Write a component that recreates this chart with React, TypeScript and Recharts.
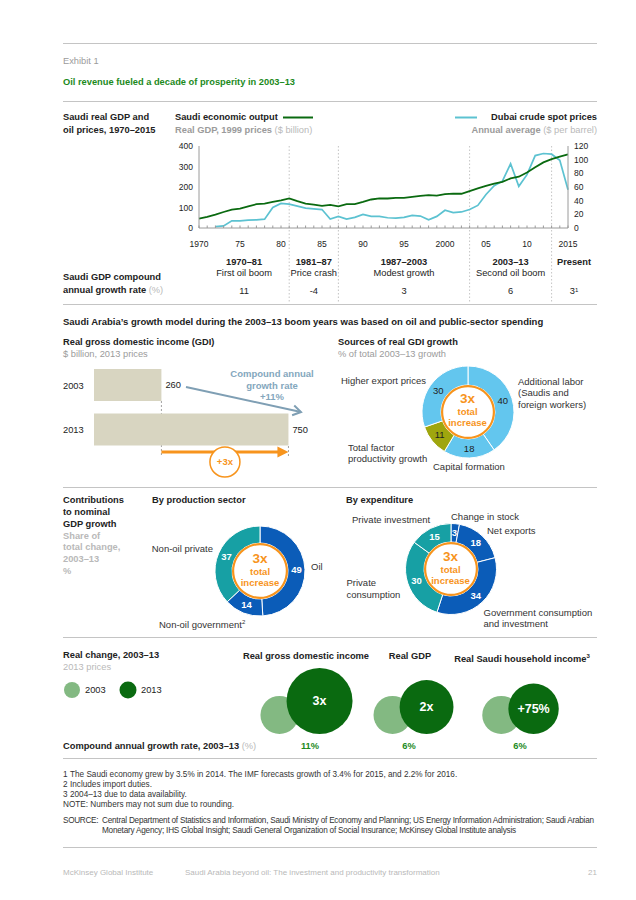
import React from 'react';
import {
  ComposedChart, Line, XAxis, YAxis, ReferenceLine, ReferenceArea,
  BarChart, Bar, LabelList, PieChart, Pie, Cell, ScatterChart, Scatter, ZAxis,
} from 'recharts';

const FONT = '"Liberation Sans", Arial, Helvetica, sans-serif';
const RAD = Math.PI / 180;
const ORANGE = '#f7941d';
const BLUE = '#0b5cb8';
const TEAL = '#17a0a4';
const SKY = '#63c6ee';
const OLIVE = '#9fa60e';
const DKGREEN = '#0a6a10';
const LTGREEN = '#83b982';
const TITLEGREEN = '#1c8a1c';
const CYAN = '#5cc2d1';
const TEXT = '#222';
const GRAY = '#9b9b9b';
const LGRAY = '#b9b9b9';
const RULE = '#c4c4c4';

// ---------- Data: Saudi GDP and oil prices ----------
const years = [1970, 1971, 1972, 1973, 1974, 1975, 1976, 1977, 1978, 1979, 1980, 1981, 1982, 1983, 1984, 1985, 1986, 1987, 1988, 1989, 1990, 1991, 1992, 1993, 1994, 1995, 1996, 1997, 1998, 1999, 2000, 2001, 2002, 2003, 2004, 2005, 2006, 2007, 2008, 2009, 2010, 2011, 2012, 2013, 2014, 2015];
const gdpValues = [46, 54, 65, 78, 90, 95, 106, 116, 119, 127, 135, 144, 131, 119, 114, 108, 113, 106, 116, 116, 127, 139, 144, 144, 147, 147, 152, 157, 160, 158, 165, 168, 167, 180, 193, 206, 217, 225, 242, 250, 271, 296, 320, 336, 348, 359];
const oilValues = [null, null, 2, 3, 10.5, 10.5, 11.5, 12, 13, 30, 36, 35, 32, 29, 28, 27, 13, 17, 13, 15.5, 20, 17, 17, 15, 14.5, 15.5, 18.5, 17.5, 12, 17, 26, 22.5, 23.5, 27, 33, 49, 62, 68.5, 94, 61, 78, 106, 109, 108, 99, 56];
const gdpTicks = [0, 100, 200, 300, 400];
const oilTicks = [0, 20, 40, 60, 80, 100, 120];
const xLabelYears = [1970, 1975, 1980, 1985, 1990, 1995, 2000, 2005, 2010, 2015];
const xLabelTexts = ['1970', '75', '80', '85', '90', '95', '2000', '05', '10', '2015'];
const dividerYears = [1981, 1987, 2003, 2013];

const periodRanges = ['1970–81', '1981–87', '1987–2003', '2003–13', 'Present'];
const periodNames = ['First oil boom', 'Price crash', 'Modest growth', 'Second oil boom', ''];
const periodRates = ['11', '-4', '3', '6', '3'];
const periodStarts = [1970, 1981, 1987, 2003, 2013];

// ---------- Data: GDI ----------
const gdiYears = ['2003', '2013'];
const gdiValues = [260, 750];

// ---------- Data: donuts ----------
const sourceNames = ['Additional labor', 'Capital formation', 'Total factor productivity growth', 'Higher export prices'];
const sourceValues = [40, 18, 11, 30];
const sourceColors = [SKY, SKY, OLIVE, SKY];

const sectorNames = ['Oil', 'Non-oil government', 'Non-oil private'];
const sectorValues = [49, 14, 37];
const sectorColors = [BLUE, BLUE, TEAL];

const expNames = ['Change in stock', 'Net exports', 'Government consumption and investment', 'Private consumption', 'Private investment'];
const expValues = [3, 18, 34, 30, 15];
const expColors = [BLUE, BLUE, BLUE, TEAL, TEAL];

// ---------- Data: bubbles ----------
const bubbleNames = ['Real gross domestic income', 'Real GDP', 'Real Saudi household income'];
const bubble2003 = [100, 100, 100];
const bubble2013 = [300, 200, 175];
const bubbleLabels = ['3x', '2x', '+75%'];
const bubbleCagr = ['11%', '6%', '6%'];

// ---------- helpers ----------
const PLOT_L = 199;
const PLOT_R = 568;
const xOfYear = (y: number) => PLOT_L + ((y - 1970) * (PLOT_R - PLOT_L)) / 45;

type TP = {
  x: number; y: number; children: React.ReactNode; size?: number; color?: string;
  bold?: boolean; align?: 'left' | 'center' | 'right'; ls?: number;
};
function T({ x, y, children, size = 9.3, color = TEXT, bold = false, align = 'left', ls = 0 }: TP) {
  const lh = Math.round(size * 1.2);
  const style: React.CSSProperties = {
    position: 'absolute', top: y - lh / 2, fontSize: size, lineHeight: `${lh}px`, color,
    fontWeight: bold ? 700 : 400, whiteSpace: 'nowrap', letterSpacing: ls,
  };
  if (align === 'left') style.left = x;
  else if (align === 'right') style.right = 636 - x;
  else { style.left = x; style.transform = 'translateX(-50%)'; }
  return <div style={style}>{children}</div>;
}

function Rule({ y }: { y: number }) {
  return <div style={{ position: 'absolute', left: 63, width: 534, top: y, height: 1, background: RULE }} />;
}

const chartData = years.map((yr, i) => ({ year: yr, gdp: gdpValues[i], oil: oilValues[i] }));
const xLabelOf = (v: number) => {
  const i = xLabelYears.indexOf(v);
  return i >= 0 ? xLabelTexts[i] : '';
};

function GrowthArrow(p: any) {
  const { x, y, width, height } = p;
  const bottom = y + height;
  const x2 = x + width;
  const mid = (x + x2) / 2;
  return (
    <g>
      <line x1={x} x2={x} y1={bottom - 51} y2={bottom + 5} stroke="#8a8a8a" strokeWidth={0.8} strokeDasharray="2 2" />
      <line x1={x2} x2={x2} y1={bottom - 6} y2={bottom + 5} stroke="#8a8a8a" strokeWidth={0.8} strokeDasharray="2 2" />
      <line x1={x} x2={x2 - 9} y1={bottom} y2={bottom} stroke={ORANGE} strokeWidth={3} />
      <polygon points={`${x2},${bottom} ${x2 - 11},${bottom - 5.5} ${x2 - 11},${bottom + 5.5}`} fill={ORANGE} />
      <circle cx={mid} cy={bottom + 10} r={15} fill="#fff" stroke={ORANGE} strokeWidth={1.5} />
      <text x={mid} y={bottom + 10} dy="0.35em" textAnchor="middle" fontSize={9.5} fontWeight={700} fill={ORANGE}>+3x</text>
    </g>
  );
}

type DonutProps = {
  cx: number; cy: number; names: string[]; values: number[]; colors: string[];
  rIn: number; rOut: number; labelColor: string; labelBold: boolean;
};
function Donut({ cx, cy, names, values, colors, rIn, rOut, labelColor, labelBold }: DonutProps) {
  const size = 110;
  const c = size / 2;
  const data = names.map((n, i) => ({ name: n, value: values[i] }));
  const renderLabel = (p: any) => {
    const r = (p.innerRadius + p.outerRadius) / 2;
    const x = p.cx + r * Math.cos(-p.midAngle * RAD);
    const y = p.cy + r * Math.sin(-p.midAngle * RAD);
    return (
      <text key={`l-${p.index}`} x={x} y={y} dy="0.35em" textAnchor="middle" fontSize={9.5}
        fontWeight={labelBold ? 700 : 400} fill={labelColor}>{p.value}</text>
    );
  };
  return (
    <div style={{ position: 'absolute', left: cx - c, top: cy - c, width: size, height: size }}>
      <PieChart width={size} height={size} margin={{ top: 0, right: 0, bottom: 0, left: 0 }}>
        <Pie data={data} dataKey="value" cx={c} cy={c} innerRadius={rIn} outerRadius={rOut}
          startAngle={90} endAngle={-270} stroke="#fff" strokeWidth={1}
          isAnimationActive={false} labelLine={false} label={renderLabel}>
          {data.map((d, i) => <Cell key={d.name} fill={colors[i]} />)}
        </Pie>
        <Pie data={[{ name: 'ring', value: 1 }]} dataKey="value" cx={c} cy={c} innerRadius={rIn - 2.2}
          outerRadius={rIn} startAngle={90} endAngle={-270} fill={ORANGE} stroke="none" isAnimationActive={false} />
      </PieChart>
      <T x={c} y={c - 12.5} size={13.5} bold color={ORANGE} align="center">3x</T>
      <T x={c} y={c} size={9.5} bold color={ORANGE} align="center">total</T>
      <T x={c} y={c + 11.3} size={9.5} bold color={ORANGE} align="center">increase</T>
    </div>
  );
}

function BubblePair(p: any) {
  const { cx, cy, payload } = p;
  const rD = p.width ? p.width / 2 : Math.sqrt((p.size || 0) / Math.PI);
  const rL = rD * Math.sqrt(payload.v2003 / payload.z);
  const overlap = 12;
  const W = 2 * rL + 2 * rD - overlap;
  const left = cx - W / 2;
  const lx = left + rL;
  const dx = left + 2 * rL - overlap + rD;
  return (
    <g>
      <circle cx={lx} cy={cy - rL} r={rL} fill={LTGREEN} />
      <circle cx={dx} cy={cy - rD} r={rD} fill={DKGREEN} />
      <text x={dx} y={cy - rD} dy="0.35em" textAnchor="middle" fontSize={12.5} fontWeight={700} fill="#fff">{payload.label}</text>
    </g>
  );
}

const bubbleData = bubbleNames.map((n, i) => ({ name: n, y: 0, z: bubble2013[i], v2003: bubble2003[i], label: bubbleLabels[i] }));
const gdiData = gdiYears.map((y, i) => ({ year: y, value: gdiValues[i] }));

const FN = 8.2;

export default function App() {
  const colCenters = periodStarts.map((s, i) => (i < 4 ? (xOfYear(s) + xOfYear(periodStarts[i + 1] ?? 2015)) / 2 : 574));
  const ax = { x1: 186, y1: 387, x2: 301, y2: 412 };
  const len = Math.hypot(ax.x2 - ax.x1, ax.y2 - ax.y1);
  const ux = (ax.x2 - ax.x1) / len, uy = (ax.y2 - ax.y1) / len;
  const hp = (s: number) => `${ax.x2 - 8 * ux + s * 5 * -uy},${ax.y2 - 8 * uy + s * 5 * ux}`;
  return (
    <div style={{ position: 'absolute', left: 0, top: 0, width: 636, height: 900, background: '#fff', fontFamily: FONT, color: TEXT, overflow: 'hidden' }}>
      <Rule y={43} />
      <T x={63} y={61} color={GRAY}>Exhibit 1</T>
      <T x={63} y={82} bold color={TITLEGREEN}>Oil revenue fueled a decade of prosperity in 2003–13</T>
      <Rule y={101} />

      {/* Section 1 header */}
      <T x={63} y={117.5} bold>Saudi real GDP and</T>
      <T x={63} y={130} bold>oil prices, 1970–2015</T>
      <T x={175} y={117.5} bold>Saudi economic output</T>
      <T x={175} y={130} bold color={GRAY}>Real GDP, 1999 prices <span style={{ fontWeight: 400, color: LGRAY }}>($ billion)</span></T>
      <T x={597} y={117.5} bold align="right">Dubai crude spot prices</T>
      <T x={597} y={130} bold color={GRAY} align="right">Annual average <span style={{ fontWeight: 400, color: LGRAY }}>($ per barrel)</span></T>

      <div style={{ position: 'absolute', left: 150, top: 140 }}>
        <ComposedChart width={460} height={166} data={chartData} margin={{ top: 6, right: 2, bottom: 0, left: 9 }}>
          <XAxis dataKey="year" type="number" domain={[1970, 2015]} ticks={years} interval={0}
            tickFormatter={xLabelOf} height={78} tickSize={-2.5} tickMargin={15.5}
            axisLine={{ stroke: '#9a9a9a' }} tickLine={{ stroke: '#9a9a9a' }}
            tick={{ fontSize: 8.5, fill: TEXT }} />
          <YAxis yAxisId="gdp" domain={[0, 400]} ticks={gdpTicks} interval={0} width={40} tickLine={false} tickSize={0}
            tickMargin={6} axisLine={{ stroke: '#9a9a9a' }} tick={{ fontSize: 8.5, fill: TEXT }} />
          <YAxis yAxisId="oil" orientation="right" domain={[0, 120]} ticks={oilTicks} interval={0} width={40} tickLine={false}
            tickSize={0} tickMargin={6} axisLine={{ stroke: '#9a9a9a' }} tick={{ fontSize: 8.5, fill: TEXT }} />
          {dividerYears.map((yr) => (
            <ReferenceLine key={yr} yAxisId="gdp" ifOverflow="visible"
              segment={[{ x: yr, y: 400 }, { x: yr, y: -366 }]}
              stroke="#b5b5b5" strokeWidth={0.8} strokeDasharray="1.5 2" />
          ))}
          <Line yAxisId="oil" dataKey="oil" type="linear" stroke={CYAN} strokeWidth={1.7} dot={false}
            isAnimationActive={false} connectNulls={false} />
          <Line yAxisId="gdp" dataKey="gdp" type="linear" stroke={DKGREEN} strokeWidth={1.8} dot={false}
            isAnimationActive={false} />
        </ComposedChart>
      </div>

      {/* period table */}
      {periodRanges.map((r, i) => (
        <T key={r} x={colCenters[i]} y={262} bold align="center">{r}</T>
      ))}
      {periodNames.map((n, i) => (n ? <T key={n} x={colCenters[i]} y={273.5} align="center">{n}</T> : null))}
      {periodRates.map((v, i) => (
        <T key={`r${i}`} x={colCenters[i]} y={291} align="center">
          {v}{i === 4 ? <span style={{ fontSize: 6, verticalAlign: 'top', position: 'relative', top: -1 }}>1</span> : null}
        </T>
      ))}
      <T x={63} y={277.5} bold>Saudi GDP compound</T>
      <T x={63} y={290.5} bold>annual growth rate <span style={{ fontWeight: 400, color: LGRAY }}>(%)</span></T>
      <Rule y={304} />

      <T x={63} y={321.5} bold size={9.5}>Saudi Arabia’s growth model during the 2003–13 boom years was based on oil and public-sector spending</T>

      {/* GDI */}
      <T x={63} y={342.7} bold>Real gross domestic income (GDI)</T>
      <T x={63} y={354.5} color={GRAY}>$ billion, 2013 prices</T>
      <div style={{ position: 'absolute', left: 50, top: 340 }}>
        <BarChart width={300} height={145} data={gdiData} layout="vertical" margin={{ top: 23, right: 46, bottom: 33, left: 0 }}>
          <XAxis type="number" domain={[0, 810]} hide />
          <YAxis type="category" dataKey="year" width={44} axisLine={false} tickLine={false}
            tick={(p: any) => (
              <text x={13} y={p.y} dy="0.35em" textAnchor="start" fontSize={9.3} fill={TEXT}>{p.payload.value}</text>
            )} />
          <Bar dataKey="value" fill="#d8d5c1" barSize={32} isAnimationActive={false}>
            <LabelList dataKey="value" position="right" offset={4} fill={TEXT} fontSize={9.3} />
          </Bar>
          <ReferenceArea x1={gdiValues[0]} x2={gdiValues[1]} ifOverflow="visible" shape={GrowthArrow} />
        </BarChart>
      </div>
      <svg style={{ position: 'absolute', left: 0, top: 0 }} width={636} height={900} pointerEvents="none">
        <line x1={ax.x1} y1={ax.y1} x2={ax.x2} y2={ax.y2} stroke="#7f9fb4" strokeWidth={2} />
        <polyline points={`${hp(1)} ${ax.x2},${ax.y2} ${hp(-1)}`} fill="none" stroke="#7f9fb4" strokeWidth={2} />
        <line x1={283} x2={313} y1={117.5} y2={117.5} stroke={DKGREEN} strokeWidth={2} />
        <line x1={455} x2={477} y1={117.5} y2={117.5} stroke={CYAN} strokeWidth={2} />
        <circle cx={72} cy={690} r={8} fill={LTGREEN} />
        <circle cx={128} cy={690} r={8.5} fill={DKGREEN} />
      </svg>
      <T x={272} y={373.5} bold size={9.5} color="#84a7bd" align="center">Compound annual</T>
      <T x={272} y={385} bold size={9.5} color="#84a7bd" align="center">growth rate</T>
      <T x={272} y={396.7} bold size={9.5} color="#84a7bd" align="center">+11%</T>

      {/* Sources donut */}
      <T x={338} y={342.7} bold>Sources of real GDI growth</T>
      <T x={338} y={354.5} color={GRAY}>% of total 2003–13 growth</T>
      <Donut cx={467.5} cy={411.5} names={sourceNames} values={sourceValues} colors={sourceColors}
        rIn={27} rOut={46} labelColor={TEXT} labelBold={false} />
      <T x={426} y={380} size={9.5} color="#333" align="right">Higher export prices</T>
      <T x={518} y={381.7} size={9.5} color="#333">Additional labor</T>
      <T x={518} y={392.8} size={9.5} color="#333">(Saudis and</T>
      <T x={518} y={404} size={9.5} color="#333">foreign workers)</T>
      <T x={348} y={447.3} size={9.5} color="#333">Total factor</T>
      <T x={348} y={458.4} size={9.5} color="#333">productivity growth</T>
      <T x={433} y={466} size={9.5} color="#333">Capital formation</T>
      <Rule y={487} />

      {/* Section 3 */}
      <T x={63} y={500.7} bold>Contributions</T>
      <T x={63} y={512.4} bold>to nominal</T>
      <T x={63} y={524} bold>GDP growth</T>
      <T x={63} y={536} bold color={LGRAY}>Share of</T>
      <T x={63} y={547.7} bold color={LGRAY}>total change,</T>
      <T x={63} y={559.3} bold color={LGRAY}>2003–13</T>
      <T x={63} y={571} bold color={LGRAY}>%</T>

      <T x={152} y={500.7} bold>By production sector</T>
      <Donut cx={260} cy={571} names={sectorNames} values={sectorValues} colors={sectorColors}
        rIn={28} rOut={45} labelColor="#fff" labelBold />
      <T x={213} y={548.3} size={9.5} color="#333" align="right">Non-oil private</T>
      <T x={311} y={566.7} size={9.5} color="#333">Oil</T>
      <T x={159} y={622.3} size={9.5} color="#333">Non-oil government<sup style={{ fontSize: 6 }}>2</sup></T>

      <T x={346} y={500.7} bold>By expenditure</T>
      <Donut cx={450.5} cy={569} names={expNames} values={expValues} colors={expColors}
        rIn={27} rOut={45.5} labelColor="#fff" labelBold />
      <T x={451} y={516} size={9.5} color="#333">Change in stock</T>
      <T x={352} y={519.5} size={9.5} color="#333">Private investment</T>
      <T x={487} y={530} size={9.5} color="#333">Net exports</T>
      <T x={346.5} y={582.7} size={9.5} color="#333">Private</T>
      <T x={346.5} y={594.3} size={9.5} color="#333">consumption</T>
      <T x={483.5} y={612.3} size={9.5} color="#333">Government consumption</T>
      <T x={483.5} y={623.7} size={9.5} color="#333">and investment</T>
      <Rule y={637} />

      {/* Section 4 */}
      <T x={63} y={655} bold>Real change, 2003–13</T>
      <T x={63} y={667} color={LGRAY}>2013 prices</T>
      <T x={85} y={690}>2003</T>
      <T x={141} y={690}>2013</T>
      {bubbleNames.map((n, i) => (
        <T key={n} x={[306, 410, 522][i]} y={656} bold align="center">
          {n}{i === 2 ? <sup style={{ fontSize: 6 }}>3</sup> : null}
        </T>
      ))}
      <div style={{ position: 'absolute', left: 240, top: 640 }}>
        <ScatterChart width={340} height={100} margin={{ top: 10, right: 6, bottom: 6, left: 13 }}>
          <XAxis dataKey="name" type="category" allowDuplicatedCategory={false} hide />
          <YAxis dataKey="y" type="number" domain={[0, 1]} hide />
          <ZAxis dataKey="z" type="number" domain={[0, 300]} range={[0, Math.PI * 33 * 33]} />
          <Scatter data={bubbleData} shape={BubblePair} isAnimationActive={false} />
        </ScatterChart>
      </div>
      <T x={63} y={746} bold>Compound annual growth rate, 2003–13 <span style={{ fontWeight: 400, color: LGRAY }}>(%)</span></T>
      {bubbleCagr.map((c, i) => (
        <T key={`c${i}`} x={[310, 409, 520][i]} y={746} bold color={TITLEGREEN} align="center">{c}</T>
      ))}
      <Rule y={758} />

      {/* Footnotes */}
      <T x={63} y={775} size={FN} color="#333">1</T>
      <T x={70} y={775} size={FN} color="#333">The Saudi economy grew by 3.5% in 2014. The IMF forecasts growth of 3.4% for 2015, and 2.2% for 2016.</T>
      <T x={63} y={785} size={FN} color="#333">2</T>
      <T x={70} y={785} size={FN} color="#333">Includes import duties.</T>
      <T x={63} y={795} size={FN} color="#333">3</T>
      <T x={70} y={795} size={FN} color="#333">2004–13 due to data availability.</T>
      <T x={63} y={805} size={FN} color="#333">NOTE: Numbers may not sum due to rounding.</T>
      <T x={63} y={821} size={FN} color="#333" ls={-0.3}>SOURCE:</T>
      <T x={102} y={821} size={FN} color="#333" ls={-0.22}>Central Department of Statistics and Information, Saudi Ministry of Economy and Planning; US Energy Information Administration; Saudi Arabian</T>
      <T x={102} y={831} size={FN} color="#333" ls={-0.22}>Monetary Agency; IHS Global Insight; Saudi General Organization of Social Insurance; McKinsey Global Institute analysis</T>
      <Rule y={847} />
      <T x={63} y={872.7} size={8} color={LGRAY}>McKinsey Global Institute</T>
      <T x={185} y={872.7} size={8} color={LGRAY}>Saudi Arabia beyond oil: The investment and productivity transformation</T>
      <T x={597} y={872.7} size={8} color={LGRAY} align="right">21</T>
    </div>
  );
}
